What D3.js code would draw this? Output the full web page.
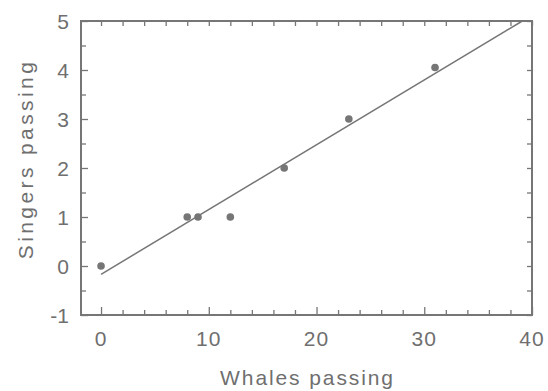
<!DOCTYPE html>
<html>
<head>
<meta charset="utf-8">
<script src="https://cdn.jsdelivr.net/npm/d3@7"></script>
<style>
  html, body { margin: 0; padding: 0; background: #fff; }
  svg { display: block; }
  text { font-family: "Liberation Sans", Arial, Helvetica, sans-serif; fill: #6f6f6f; }
</style>
</head>
<body>
<script>
// Data
const whales = [0, 8, 9, 12, 17, 23, 31];
const singers = [0, 1, 1, 1, 2, 3, 4.05];
const fitX = [0, 39.1];
const fitY = [-0.17, 5];
const xTicks = [0, 10, 20, 30, 40];
const yTicks = [-1, 0, 1, 2, 3, 4, 5];
const xTitle = "Whales passing";
const yTitle = "Singers passing";

const W = 548, H = 391;
const pL = 81, pR = 532, pT = 21, pB = 315;
const grey = "#767676";

const svg = d3.select("body").append("svg").attr("width", W).attr("height", H);

const x = d3.scaleLinear().domain([-1.86, 40]).range([pL, pR]);
const y = d3.scaleLinear().domain([-1, 5]).range([pB, pT]);

const xMinor = d3.range(0, 40.01, 2);
const yMinor = d3.range(-1, 5.01, 0.5);

// Bottom axis (ticks inward)
const gB = svg.append("g").attr("transform", `translate(0,${pB})`)
  .call(d3.axisBottom(x).tickValues(xMinor).tickSize(-5).tickFormat(""));
gB.selectAll(".tick line").filter(d => d % 10 === 0).attr("y2", -8);
// Top axis
svg.append("g").attr("transform", `translate(0,${pT})`)
  .call(d3.axisTop(x).tickValues(xMinor).tickSize(-5).tickFormat(""));
// Left axis
const gL = svg.append("g").attr("transform", `translate(${pL},0)`)
  .call(d3.axisLeft(y).tickValues(yMinor).tickSize(-5).tickFormat(""));
gL.selectAll(".tick line").filter(d => Number.isInteger(d)).attr("x2", 7);
// Right axis
svg.append("g").attr("transform", `translate(${pR},0)`)
  .call(d3.axisRight(y).tickValues(yMinor).tickSize(-5).tickFormat(""));

svg.selectAll(".domain").remove();
svg.selectAll(".tick line").attr("stroke", grey).attr("stroke-width", 1.3);

// Frame
svg.append("rect")
  .attr("x", pL).attr("y", pT)
  .attr("width", pR - pL).attr("height", pB - pT)
  .attr("fill", "none").attr("stroke", grey).attr("stroke-width", 2);

// Tick labels
svg.append("g").selectAll("text").data(xTicks).join("text")
  .attr("x", d => x(d)).attr("y", 346)
  .attr("text-anchor", "middle")
  .style("font-size", "21px").style("letter-spacing", "1px")
  .text(d => d);

svg.append("g").selectAll("text").data(yTicks).join("text")
  .attr("x", 69).attr("y", d => y(d)).attr("dy", "0.36em")
  .attr("text-anchor", "end")
  .style("font-size", "21px")
  .text(d => d);

// Titles
svg.append("text")
  .attr("x", (pL + pR) / 2 + 1).attr("y", 385)
  .attr("text-anchor", "middle")
  .style("font-size", "21px").style("letter-spacing", "1.9px")
  .text(xTitle);

svg.append("text")
  .attr("transform", `translate(33,${159}) rotate(-90)`)
  .attr("text-anchor", "middle")
  .style("font-size", "21px").style("letter-spacing", "3.4px")
  .text(yTitle);

// Fit line
svg.append("line")
  .attr("x1", x(fitX[0])).attr("y1", y(fitY[0]))
  .attr("x2", x(fitX[1])).attr("y2", y(fitY[1]))
  .attr("stroke", grey).attr("stroke-width", 1.5);

// Points
svg.append("g").selectAll("circle").data(whales).join("circle")
  .attr("cx", d => x(d)).attr("cy", (d, i) => y(singers[i]))
  .attr("r", 3.8).attr("fill", grey);
</script>
</body>
</html>
